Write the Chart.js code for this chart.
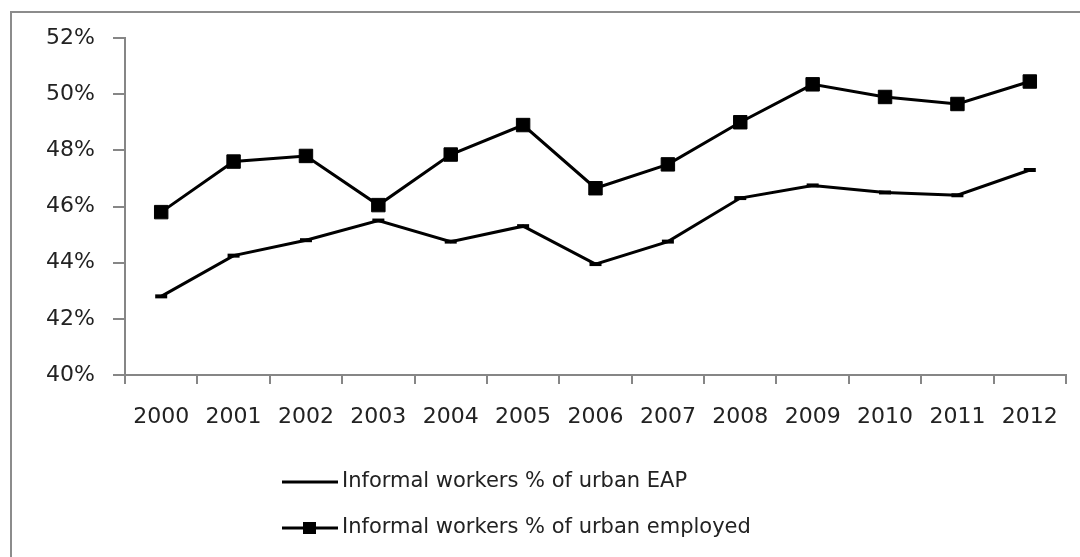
<!DOCTYPE html>
<html>
<head>
<meta charset="utf-8">
<style>
  html, body { margin: 0; padding: 0; background: #fff; }
  #wrap { width: 1080px; height: 557px; position: relative; }
</style>
</head>
<body>
<div id="wrap"><canvas id="myChart" width="1080" height="557"></canvas></div>
<script src="https://cdn.jsdelivr.net/npm/chart.js@4.4.0/dist/chart.umd.min.js"></script>
<script>
    // data
    const years = ['2000','2001','2002','2003','2004','2005','2006','2007','2008','2009','2010','2011','2012'];
    const eapShare = [42.8, 44.25, 44.8, 45.5, 44.75, 45.3, 43.95, 44.75, 46.3, 46.75, 46.5, 46.4, 47.3];
    const employedShare = [45.8, 47.6, 47.8, 46.05, 47.85, 48.9, 46.65, 47.5, 49.0, 50.35, 49.9, 49.65, 50.45];
    const yTicks = [40, 42, 44, 46, 48, 50, 52];
    const seriesNames = ['Informal workers % of urban EAP', 'Informal workers % of urban employed'];

    const font = { family: "'DejaVu Sans', Verdana, sans-serif", size: 22 };
    const axisGray = '#868686';

    // outer frame of the chart (only top/left edges are inside the picture)
    const frame = {
        id: 'frame',
        beforeDraw(chart) {
            const c = chart.ctx;
            c.save();
            c.fillStyle = '#fff';
            c.fillRect(0, 0, chart.width, chart.height);
            c.strokeStyle = '#8c8c8c';
            c.lineWidth = 2;
            c.strokeRect(11, 12, chart.width + 20, chart.height + 20);
            c.restore();
        }
    };

    // legend stacked in two rows, like the Excel one
    const stackedLegend = {
        id: 'stackedLegend',
        afterDraw(chart) {
            const c = chart.ctx;
            c.save();
            c.font = '21px ' + font.family;
            c.textBaseline = 'middle';
            chart.data.datasets.forEach((ds, i) => {
                const y = 482 + i * 46;
                c.strokeStyle = '#000';
                c.lineWidth = 3;
                c.beginPath();
                c.moveTo(282, y);
                c.lineTo(338, y);
                c.stroke();
                if (ds.pointStyle === 'rect') {
                    c.fillStyle = '#000';
                    c.fillRect(303, y - 6, 13, 12);
                }
                c.fillStyle = '#222';
                c.fillText(ds.label, 342, y);
            });
            c.restore();
        }
    };

    var ctx = document.getElementById('myChart').getContext('2d');
    var myChart = new Chart(ctx, {
        type: 'line',
        data: {
            labels: years,
            datasets: [{
                label: seriesNames[0],
                data: eapShare,
                borderColor: '#000',
                borderWidth: 3,
                pointStyle: 'line',
                pointRadius: 6,
                pointBorderWidth: 4,
                pointBorderColor: '#000',
                tension: 0
            }, {
                label: seriesNames[1],
                data: employedShare,
                borderColor: '#000',
                backgroundColor: '#000',
                borderWidth: 3,
                pointStyle: 'rect',
                pointRadius: 9.5,
                pointBackgroundColor: '#000',
                pointBorderColor: '#000',
                pointBorderWidth: 1,
                tension: 0
            }]
        },
        options: {
            responsive: false,
            animation: false,
            layout: { padding: { left: 0, right: 14, top: 38, bottom: 0 } },
            plugins: {
                legend: { display: false },
                tooltip: { enabled: false }
            },
            scales: {
                x: {
                    offset: true,
                    grid: {
                        offset: true,
                        drawOnChartArea: false,
                        drawTicks: true,
                        tickLength: 9,
                        color: axisGray,
                        lineWidth: 2
                    },
                    border: { color: axisGray, width: 2 },
                    ticks: { color: '#222', font: font, padding: 20, maxRotation: 0, autoSkip: false },
                    afterFit(scale) { scale.height = 182; }
                },
                y: {
                    min: 40,
                    max: 52,
                    afterBuildTicks(scale) { scale.ticks = yTicks.map(v => ({ value: v })); },
                    grid: {
                        drawOnChartArea: false,
                        drawTicks: true,
                        tickLength: 12,
                        color: axisGray,
                        lineWidth: 2
                    },
                    border: { color: axisGray, width: 2 },
                    ticks: {
                        color: '#222',
                        font: font,
                        padding: 18,
                        callback: v => v + '%'
                    },
                    afterFit(scale) { scale.width = 125; }
                }
            }
        },
        plugins: [frame, stackedLegend]
    });
</script>
</body>
</html>
